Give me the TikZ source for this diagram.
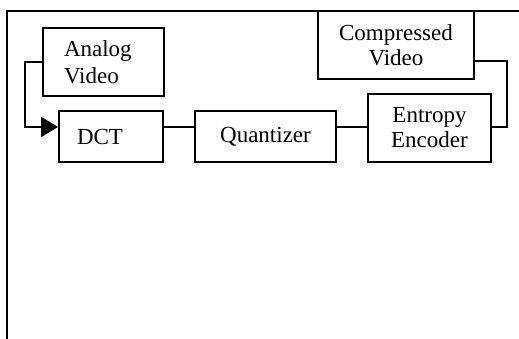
\documentclass[tikz,border=0pt]{standalone}
\usepackage{fontspec}
\setmainfont{Liberation Serif}
\usetikzlibrary{arrows.meta}
\begin{document}
\begin{tikzpicture}[x=1pt,y=-1pt,
  blk/.style={draw,line width=1.8pt,inner sep=0pt,minimum height=#1,align=center,
    font=\fontsize{23}{25}\selectfont},
  blk/.default=51pt,
  wire/.style={line width=1.8pt}]
\useasboundingbox (0,0) rectangle (519,339);
\draw[line width=1.8pt] (7,339) -- (7,11) -- (519,11);
\node[blk=68pt,minimum width=121pt,text width=79pt,inner xsep=21pt,align=left,
  font=\fontsize{23}{27}\selectfont] (analog) at (103.5,62) {Analog\\Video};
\node[blk,minimum width=104pt,text width=68pt,inner xsep=18pt,align=left] (dct) at (111,136.5) {DCT};
\node[blk,minimum width=141pt] (quant) at (265.5,136.5) {Quantizer};
\node[blk=68pt,minimum width=123pt] (entropy) at (429.5,128) {Entropy\\Encoder};
\node[blk=68pt,minimum width=156pt] (comp) at (396,45) {Compressed\\Video};
\coordinate (ly) at (0,127);
\coordinate (lx) at (25,0);
\coordinate (rx) at (507,0);
\coordinate (cy) at (0,61);
\draw[wire,-{Triangle[length=17pt,width=20pt]}] (analog.west) -| (lx |- ly) -- (dct.west |- ly);
\draw[wire] (dct.east |- ly) -- (quant.west |- ly);
\draw[wire] (quant.east |- ly) -- (entropy.west |- ly);
\draw[wire] (entropy.east |- ly) -| (rx |- cy) -- (comp.east |- cy);
\end{tikzpicture}
\end{document}
